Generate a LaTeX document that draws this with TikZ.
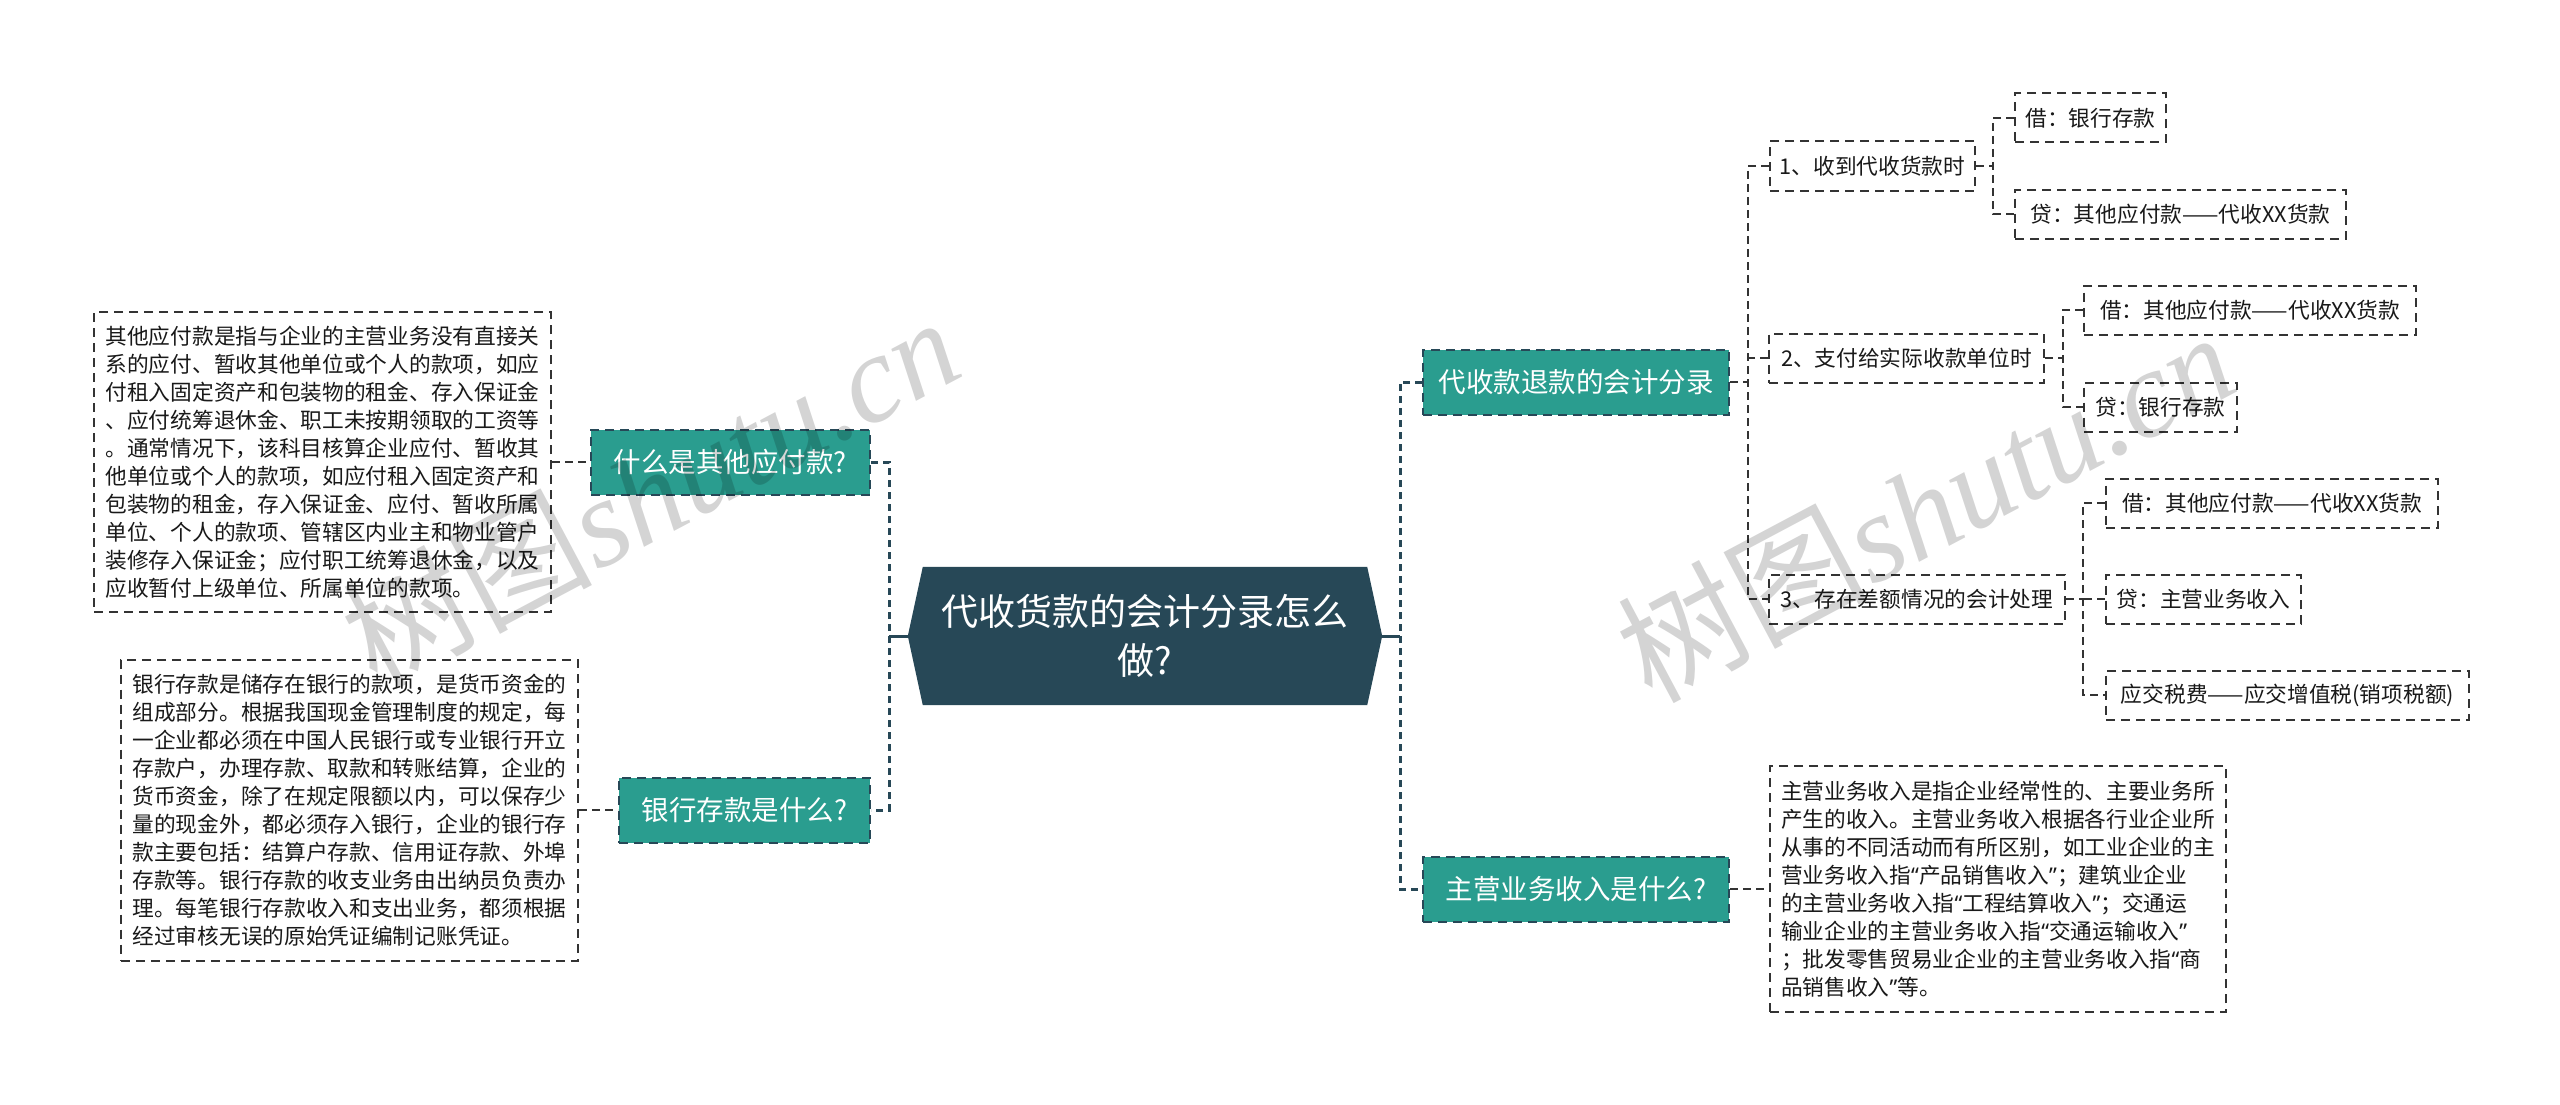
\documentclass[tikz,border=0pt]{standalone}
\usepackage{fontspec}
\setmainfont{Noto Sans CJK SC}
\newfontfamily\wmlatin{Liberation Serif}
\newfontfamily\qfont{Noto Sans}
\newcommand{\myLQ}{{\qfont “}}
\newcommand{\myRQ}{{\qfont ”}}
\usetikzlibrary{backgrounds}
\definecolor{rootc}{HTML}{274857}
\definecolor{tealc}{HTML}{2A9D8F}
\definecolor{linec}{HTML}{333333}
\begin{document}
\begin{tikzpicture}[x=1pt,y=-1pt,
 boxdash/.style={dash pattern=on 9pt off 6pt},
 trunk/.style={draw=rootc, line width=3pt, dash pattern=on 7pt off 5pt},
 stub/.style={draw=rootc, line width=3pt},
 link/.style={draw=linec, line width=2pt, dash pattern=on 8pt off 5pt},
 topic/.style={draw=rootc, line width=2pt, boxdash, fill=tealc, text=white, font=\fontsize{27.5}{33}\selectfont, minimum height=65pt, inner sep=0pt, anchor=west},
 leaf/.style={draw=linec, line width=2pt, boxdash, fill=white, text=black!90, font=\fontsize{21.7}{26}\selectfont, minimum height=49pt, inner sep=0pt, anchor=west},
 para/.style={draw=linec, line width=2pt, boxdash, fill=white, text=black!90, font=\fontsize{21.7}{28}\selectfont, align=left, inner sep=0pt, anchor=west},
 rootnode/.style={text=white, font=\fontsize{37}{49}\selectfont, align=center, minimum width=474pt, minimum height=138pt, inner sep=0pt},
 wm/.style={text=black, opacity=0.17, font=\fontsize{125}{125}\selectfont, rotate=28}
]
\useasboundingbox (0,0) rectangle (2560,1105);
\begin{scope}[on background layer]
\fill[white] (0,0) rectangle (2560,1105);
\end{scope}

% root
\node[rootnode] (root) at (1145,636) {代收货款的会计分录怎么\\做?};
\begin{scope}[on background layer]
\fill[rootc] (root.west) -- ([xshift=15pt]root.north west) -- ([xshift=-15pt]root.north east) -- (root.east) -- ([xshift=-15pt]root.south east) -- ([xshift=15pt]root.south west) -- cycle;
\end{scope}

% left side
\node[para, minimum width=457pt, minimum height=300pt] (t1) at (93,462) {其他应付款是指与企业的主营业务没有直接关\\系的应付、暂收其他单位或个人的款项，如应\\付租入固定资产和包装物的租金、存入保证金\\、应付统筹退休金、职工未按期领取的工资等\\。通常情况下，该科目核算企业应付、暂收其\\他单位或个人的款项，如应付租入固定资产和\\包装物的租金，存入保证金、应付、暂收所属\\单位、个人的款项、管辖区内业主和物业管户\\装修存入保证金；应付职工统筹退休金，以及\\应收暂付上级单位、所属单位的款项。};
\node[topic, minimum width=279pt] (q1) at (590,462) {什么是其他应付款?};
\node[para, minimum width=457pt, minimum height=301pt] (t2) at (120,810) {银行存款是储存在银行的款项，是货币资金的\\组成部分。根据我国现金管理制度的规定，每\\一企业都必须在中国人民银行或专业银行开立\\存款户，办理存款、取款和转账结算，企业的\\货币资金，除了在规定限额以内，可以保存少\\量的现金外，都必须存入银行，企业的银行存\\款主要包括：结算户存款、信用证存款、外埠\\存款等。银行存款的收支业务由出纳员负责办\\理。每笔银行存款收入和支出业务，都须根据\\经过审核无误的原始凭证编制记账凭证。};
\node[topic, minimum width=251pt] (q2) at (618,810) {银行存款是什么?};

% right side
\node[topic, minimum width=306pt] (r1) at (1422,382) {代收款退款的会计分录};
\node[topic, minimum width=306pt] (r2) at (1422,889) {主营业务收入是什么?};
\node[para, minimum width=456pt, minimum height=246pt] (t3) at (1769,889) {主营业务收入是指企业经常性的、主要业务所\\产生的收入。主营业务收入根据各行业企业所\\从事的不同活动而有所区别，如工业企业的主\\营业务收入指\myLQ 产品销售收入\myRQ ；建筑业企业\\的主营业务收入指\myLQ 工程结算收入\myRQ ；交通运\\输业企业的主营业务收入指\myLQ 交通运输收入\myRQ\\；批发零售贸易业企业的主营业务收入指\myLQ 商\\品销售收入\myRQ 等。};

\node[leaf, minimum width=205pt] (a1) at (1769,166) {1、收到代收货款时};
\node[leaf, minimum width=275pt] (a2) at (1768,358) {2、支付给实际收款单位时};
\node[leaf, minimum width=296pt] (a3) at (1768,599) {3、存在差额情况的会计处理};
\node[leaf, minimum width=151pt] (b1) at (2014,118) {借：银行存款};
\node[leaf, minimum width=331pt] (b2) at (2014,214) {贷：其他应付款——代收XX货款};
\node[leaf, minimum width=332pt] (c1) at (2083,310) {借：其他应付款——代收XX货款};
\node[leaf, minimum width=153pt] (c2) at (2083,407) {贷：银行存款};
\node[leaf, minimum width=332pt] (d1) at (2105,503) {借：其他应付款——代收XX货款};
\node[leaf, minimum width=195pt] (d2) at (2105,599) {贷：主营业务收入};
\node[leaf, minimum width=363pt] (d3) at (2105,695) {应交税费——应交增值税(销项税额)};

% connectors
\coordinate (lt) at (889,636);
\coordinate (rt) at (1400,636);
\draw[stub] (root.west) -- (lt);
\draw[stub] (root.east) -- (rt);
\draw[trunk] (q1.east) -| (lt) |- (q2.east);
\draw[trunk] (r1.west) -| (rt) |- (r2.west);
\draw[link] (t1.east) -- (q1.west);
\draw[link] (t2.east) -- (q2.west);
\draw[link] (r2.east) -- (t3.west);

\coordinate (r1j) at (1748,382);
\draw[link] (r1.east) -- (r1j);
\draw[link] (a1.west) -| (r1j) |- (a3.west);
\draw[link] (a2.west) -- (a2.west -| r1j);

\coordinate (a1j) at (1993,166);
\draw[link] (a1.east) -- (a1j);
\draw[link] (b1.west) -| (a1j) |- (b2.west);

\coordinate (a2j) at (2063,358);
\draw[link] (a2.east) -- (a2j);
\draw[link] (c1.west) -| (a2j) |- (c2.west);

\coordinate (a3j) at (2083,599);
\draw[link] (a3.east) -- (a3j);
\draw[link] (d1.west) -| (a3j) |- (d3.west);
\draw[link] (d2.west) -- (a3j);

% watermarks
\node[wm] (wm1) at (650,490) {树图{\wmlatin\itshape shutu.cn}};
\node[wm] (wm2) at (1925,505) {树图{\wmlatin\itshape shutu.cn}};
\end{tikzpicture}
\end{document}
